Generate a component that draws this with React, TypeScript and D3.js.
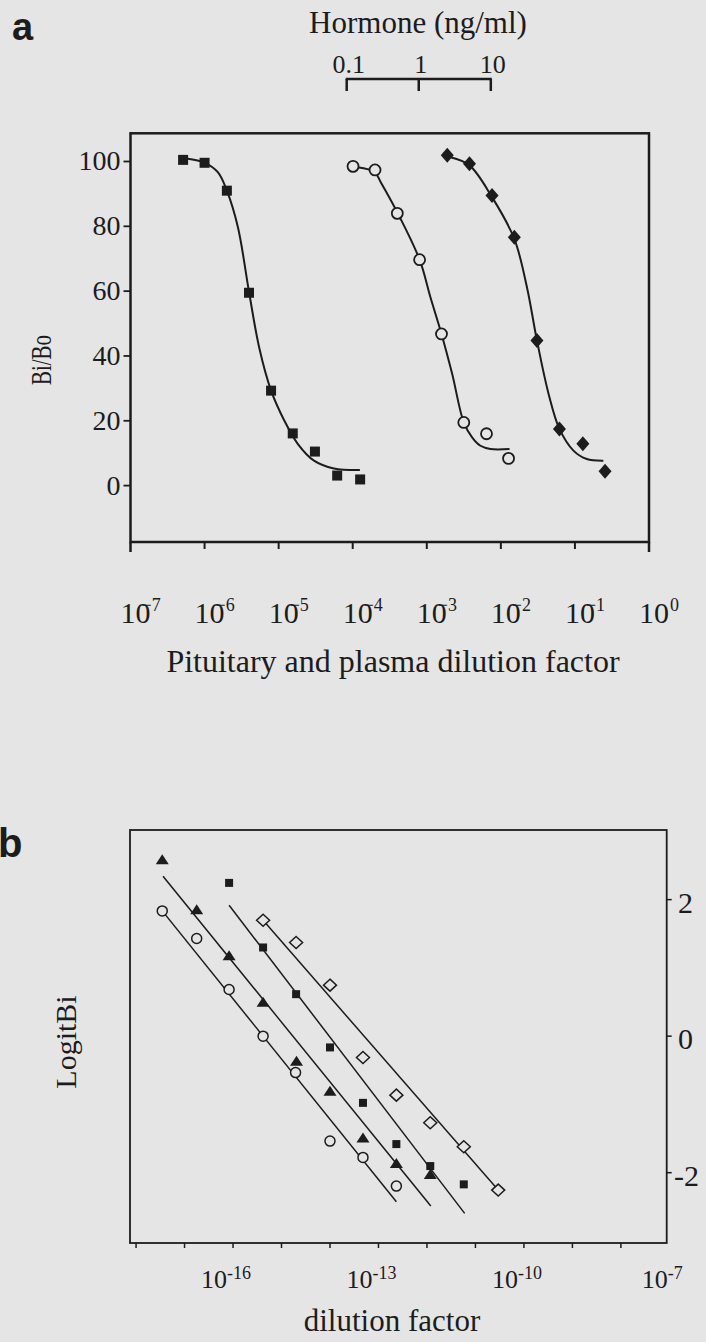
import React from 'react';
import * as d3 from 'd3';

const W = 706;
const H = 1342;
const BG = '#e5e5e5';
const INK = '#1c1c1c';
const SERIF = '"Liberation Serif", "Times New Roman", serif';
const SANS = '"Liberation Sans", Arial, sans-serif';

// ---------------- Panel a ----------------
const aXTickExponents = [-7, -6, -5, -4, -3, -2, -1, 0];
const aYTicks = [0, 20, 40, 60, 80, 100];
const hormoneTicks = [0.1, 1, 10];
const hormoneTickLabels = ['0.1', '1', '10'];

// filled squares
const squareX = [5.13e-7, 1.0e-6, 2.0e-6, 3.98e-6, 7.9e-6, 1.55e-5, 3.09e-5, 6.17e-5, 1.26e-4];
const squareY = [100.5, 99.6, 91.0, 59.5, 29.3, 16.1, 10.5, 3.1, 1.9];
const squareCurveX = [5.68e-7, 1.01e-6, 1.51e-6, 2.0e-6, 2.82e-6, 4.0e-6, 5.45e-6, 7.91e-6, 1.19e-5, 1.81e-5, 3.0e-5, 5.57e-5, 1.25e-4];
const squareCurveY = [100.9, 99.6, 96.7, 91.0, 79.7, 59.5, 42.7, 29.3, 20.1, 12.9, 7.7, 5.3, 4.8];

// open circles
const circleX = [1.01e-4, 2.0e-4, 4.0e-4, 8.0e-4, 1.58e-3, 3.16e-3, 6.4e-3, 1.27e-2];
const circleY = [98.5, 97.4, 84.0, 69.7, 46.8, 19.5, 16.0, 8.4];
const circleCurveX = [1.16e-4, 1.98e-4, 2.39e-4, 4.08e-4, 8.0e-4, 1.12e-3, 1.58e-3, 2.2e-3, 3.16e-3, 4.09e-3, 5.3e-3, 7.23e-3, 1.31e-2];
const circleCurveY = [98.2, 96.7, 93.6, 83.9, 69.7, 58.1, 46.8, 34.5, 19.5, 14.9, 12.3, 11.3, 11.3];

// filled diamonds
const diamondX = [1.89e-3, 3.77e-3, 7.6e-3, 1.52e-2, 3.07e-2, 6.18e-2, 0.128, 0.255];
const diamondY = [101.9, 99.3, 89.5, 76.6, 44.8, 17.5, 12.9, 4.4];
const diamondCurveX = [2.09e-3, 3.77e-3, 7.6e-3, 1.52e-2, 2.25e-2, 3.07e-2, 4.41e-2, 6.18e-2, 9.55e-2, 0.1445, 0.242];
const diamondCurveY = [101.3, 98.8, 89.0, 76.1, 61.2, 44.8, 28.3, 17.5, 10.8, 8.2, 7.7];

// ---------------- Panel b ----------------
const bTickExponents = [-18, -17, -16, -15, -14, -13, -12, -11, -10, -9, -8];
const bLabelExponents = [-16, -13, -10, -7];
const bYTicks = [2, 0, -2];

const bTriX = [3.47e-18, 1.78e-17, 8.3e-17, 4.17e-16, 2.04e-15, 1.0e-14, 4.79e-14, 2.34e-13, 1.17e-12];
const bTriY = [2.577, 1.845, 1.171, 0.488, -0.376, -0.816, -1.498, -1.874, -2.035];
const bTriFitX = [3.6e-18, 1.2e-12];
const bTriFitY = [2.343, -2.489];

const bCircX = [3.47e-18, 1.78e-17, 8.3e-17, 4.17e-16, 1.95e-15, 1.0e-14, 4.79e-14, 2.34e-13];
const bCircY = [1.835, 1.43, 0.684, 0.0, -0.534, -1.537, -1.776, -2.196];
const bCircFitX = [3.47e-18, 2.34e-13];
const bCircFitY = [1.835, -2.426];

const bSqX = [8.3e-17, 4.17e-16, 2.0e-15, 1.0e-14, 4.79e-14, 2.34e-13, 1.17e-12, 5.75e-12];
const bSqY = [2.245, 1.299, 0.615, -0.165, -0.977, -1.581, -1.903, -2.171];
const bSqFitX = [8.3e-17, 6.0e-12];
const bSqFitY = [1.918, -2.596];

const bDiaX = [4.17e-16, 2.0e-15, 1.0e-14, 4.79e-14, 2.34e-13, 1.17e-12, 5.75e-12, 2.95e-11];
const bDiaY = [1.698, 1.372, 0.747, -0.312, -0.864, -1.269, -1.621, -2.255];
const bDiaFitX = [4.17e-16, 2.95e-11];
const bDiaFitY = [1.698, -2.255];

// ---------------- scales ----------------
const xA = d3.scaleLog().domain([1e-7, 1]).range([130.5, 649]);
const yA = d3.scaleLinear().domain([-17.4, 108.7]).range([542, 133.3]);
const xH = d3.scaleLog().domain([0.1, 10]).range([346.7, 490.8]);
const xB = d3.scaleLog().domain([Math.pow(10, -18.125), Math.pow(10, -7.055)]).range([130, 666.7]);
const yB = d3.scaleLinear().domain([-3.03, 3.02]).range([1243, 830]);

const zip = (xs: number[], ys: number[]) => xs.map((x, i) => [x, ys[i]] as [number, number]);

const curveA = d3
  .line<[number, number]>()
  .x((d) => xA(d[0]))
  .y((d) => yA(d[1]))
  .curve(d3.curveCatmullRom.alpha(0.5));

const lineB = d3
  .line<[number, number]>()
  .x((d) => xB(d[0]))
  .y((d) => yB(d[1]));

const diamondPath = (cx: number, cy: number, w: number, h: number) =>
  `M${cx},${cy - h}L${cx + w},${cy}L${cx},${cy + h}L${cx - w},${cy}Z`;
const trianglePath = (cx: number, cy: number, w: number, h: number) =>
  `M${cx},${cy - h * 0.6}L${cx + w},${cy + h * 0.4}L${cx - w},${cy + h * 0.4}Z`;

export default function App() {
  const aLeft = xA(1e-7);
  const aRight = xA(1);
  const aTop = yA(108.7);
  const aBottom = yA(-17.4);
  const bLeft = 130;
  const bRight = 666.7;
  const bTop = yB(3.02);
  const bBottom = yB(-3.03);

  return (
    <svg
      width={W}
      height={H}
      viewBox={`0 0 ${W} ${H}`}
      style={{ position: 'absolute', left: 0, top: 0, display: 'block' }}
    >
      <rect x={0} y={0} width={W} height={H} fill={BG} />

      {/* ===== Panel a ===== */}
      <text x={12} y={40} fontFamily={SANS} fontWeight="bold" fontSize={38} fill={INK}>
        a
      </text>

      {/* Hormone axis */}
      <text x={418} y={33} textAnchor="middle" fontFamily={SERIF} fontSize={31} fill={INK}>
        Hormone (ng/ml)
      </text>
      {hormoneTicks.map((t, i) => (
        <text key={'ht' + i} x={xH(t) + 2} y={73} textAnchor="middle" fontFamily={SERIF} fontSize={26} fill={INK}>
          {hormoneTickLabels[i]}
        </text>
      ))}
      <line x1={xH(0.1) - 1} x2={xH(10) + 1} y1={79} y2={79} stroke={INK} strokeWidth={2.5} />
      {hormoneTicks.map((t, i) => (
        <line key={'hk' + i} x1={xH(t)} x2={xH(t)} y1={79} y2={91} stroke={INK} strokeWidth={2.5} />
      ))}

      {/* frame */}
      <rect x={aLeft} y={aTop} width={aRight - aLeft} height={aBottom - aTop} fill="none" stroke={INK} strokeWidth={2.5} />
      {/* y ticks */}
      {aYTicks.map((t) => (
        <g key={'ay' + t}>
          <line x1={aLeft - 7} x2={aLeft} y1={yA(t)} y2={yA(t)} stroke={INK} strokeWidth={1.8} />
          <text x={aLeft - 10} y={yA(t) + 9} textAnchor="end" fontFamily={SERIF} fontSize={28} fill={INK}>
            {t}
          </text>
        </g>
      ))}
      {/* x ticks */}
      {aXTickExponents.map((e, i) => {
        const x = xA(Math.pow(10, e));
        const end = i === 0 || i === aXTickExponents.length - 1;
        return (
          <g key={'ax' + e}>
            <line x1={x} x2={x} y1={aBottom} y2={aBottom + (end ? 10 : 7)} stroke={INK} strokeWidth={end ? 2.5 : 2} />
            <text x={x - 10} y={623} fontFamily={SERIF} fontSize={30} fill={INK}>
              10
              <tspan dx={e < 0 ? -9 : 1} dy={-12} fontSize={18}>
                {e < 0 ? '\u2212' + Math.abs(e) : String(e)}
              </tspan>
            </text>
          </g>
        );
      })}
      <text x={393} y={672} textAnchor="middle" fontFamily={SERIF} fontSize={32} fill={INK}>
        Pituitary and plasma dilution factor
      </text>
      <text
        transform="translate(51,360) rotate(-90)"
        textAnchor="middle"
        fontFamily={SERIF}
        fontSize={30}
        textLength={50}
        lengthAdjust="spacingAndGlyphs"
        fill={INK}
      >
        Bi/Bo
      </text>

      {/* curves */}
      <path d={curveA(zip(squareCurveX, squareCurveY)) || ''} fill="none" stroke={INK} strokeWidth={2} />
      <path d={curveA(zip(circleCurveX, circleCurveY)) || ''} fill="none" stroke={INK} strokeWidth={2} />
      <path d={curveA(zip(diamondCurveX, diamondCurveY)) || ''} fill="none" stroke={INK} strokeWidth={2} />

      {/* markers */}
      {squareX.map((x, i) => (
        <rect key={'as' + i} x={xA(x) - 5} y={yA(squareY[i]) - 5} width={10} height={10} fill={INK} />
      ))}
      {circleX.map((x, i) => (
        <circle key={'ac' + i} cx={xA(x)} cy={yA(circleY[i])} r={5.5} fill={BG} stroke={INK} strokeWidth={1.8} />
      ))}
      {diamondX.map((x, i) => (
        <path key={'ad' + i} d={diamondPath(xA(x), yA(diamondY[i]), 6.5, 7.5)} fill={INK} />
      ))}

      {/* ===== Panel b ===== */}
      <text x={-2} y={857} fontFamily={SANS} fontWeight="bold" fontSize={40} fill={INK}>
        b
      </text>
      <rect x={bLeft} y={bTop} width={bRight - bLeft} height={bBottom - bTop} fill="none" stroke={INK} strokeWidth={1.8} />
      {bTickExponents.map((e) => {
        const x = xB(Math.pow(10, e));
        return <line key={'bt' + e} x1={x} x2={x} y1={bBottom} y2={bBottom + 5} stroke={INK} strokeWidth={1.5} />;
      })}
      {bLabelExponents.map((e) => (
        <text key={'bl' + e} x={xB(Math.pow(10, e)) - 7} y={1288} textAnchor="middle" fontFamily={SERIF} fontSize={26} fill={INK}>
          10
          <tspan dy={-9} fontSize={18}>
            {'-' + Math.abs(e)}
          </tspan>
        </text>
      ))}
      <text x={392} y={1331} textAnchor="middle" fontFamily={SERIF} fontSize={31} fill={INK}>
        dilution factor
      </text>
      {bYTicks.map((t) => (
        <g key={'by' + t}>
          <line x1={bRight} x2={bRight + 5} y1={yB(t)} y2={yB(t)} stroke={INK} strokeWidth={1.5} />
          <text x={t < 0 ? 674 : 678} y={yB(t) + 13} fontFamily={SERIF} fontSize={30} fill={INK}>
            {t < 0 ? '-' + Math.abs(t) : String(t)}
          </text>
        </g>
      ))}
      <text transform="translate(76,1042) rotate(-90)" textAnchor="middle" fontFamily={SERIF} fontSize={30} fill={INK}>
        LogitBi
      </text>

      {/* regression lines */}
      <path d={lineB(zip(bCircFitX, bCircFitY)) || ''} fill="none" stroke={INK} strokeWidth={1.5} />
      <path d={lineB(zip(bTriFitX, bTriFitY)) || ''} fill="none" stroke={INK} strokeWidth={1.5} />
      <path d={lineB(zip(bSqFitX, bSqFitY)) || ''} fill="none" stroke={INK} strokeWidth={1.5} />
      <path d={lineB(zip(bDiaFitX, bDiaFitY)) || ''} fill="none" stroke={INK} strokeWidth={1.5} />

      {bCircX.map((x, i) => (
        <circle key={'bc' + i} cx={xB(x)} cy={yB(bCircY[i])} r={5} fill={BG} stroke={INK} strokeWidth={1.5} />
      ))}
      {bTriX.map((x, i) => (
        <path key={'bt' + i} d={trianglePath(xB(x), yB(bTriY[i]), 6.5, 10)} fill={INK} />
      ))}
      {bSqX.map((x, i) => (
        <rect key={'bs' + i} x={xB(x) - 4} y={yB(bSqY[i]) - 4} width={8} height={8} fill={INK} />
      ))}
      {bDiaX.map((x, i) => (
        <path key={'bd' + i} d={diamondPath(xB(x), yB(bDiaY[i]), 6.5, 6)} fill={BG} stroke={INK} strokeWidth={1.5} />
      ))}
    </svg>
  );
}
